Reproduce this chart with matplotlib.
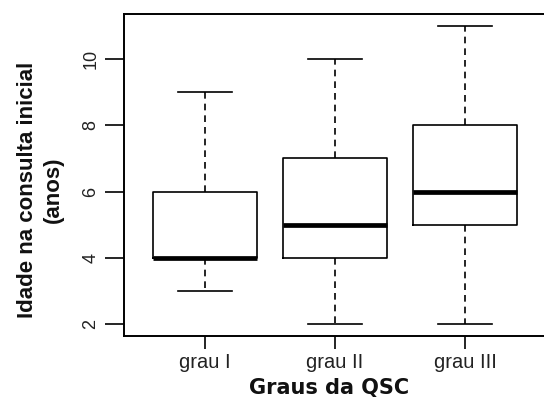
import matplotlib
matplotlib.use("Agg")
import matplotlib.pyplot as plt

# five-number summaries
groups = ["grau I", "grau II", "grau III"]
mins = [3, 2, 2]
q1s = [4, 4, 5]
medians = [4, 5, 6]
q3s = [6, 7, 8]
maxs = [9, 10, 11]
yticks = [2, 4, 6, 8, 10]

stats = [
    dict(label=g, whislo=lo, q1=a, med=m, q3=b, whishi=hi, fliers=[])
    for g, lo, a, m, b, hi in zip(groups, mins, q1s, medians, q3s, maxs)
]

plt.rcParams["font.family"] = ["Liberation Sans", "DejaVu Sans"]

fig = plt.figure(figsize=(5.44, 4.00), dpi=100)
ax = fig.add_axes([124.4 / 544, 64 / 400, 421.2 / 544, 322 / 400])

ax.bxp(
    stats,
    positions=[1, 2, 3],
    widths=0.8,
    showfliers=False,
    patch_artist=False,
    boxprops=dict(color="black", linewidth=1.2),
    whiskerprops=dict(color="black", linewidth=1.2, linestyle=(0, (4, 3))),
    capprops=dict(color="black", linewidth=1.2),
    medianprops=dict(color="black", linewidth=3.4, solid_capstyle="butt"),
    capwidths=0.42,
)

ax.set_xlim(0.38, 3.62)
ax.set_ylim(1.64, 11.36)
ax.set_yticks(yticks)
ax.set_yticklabels([str(t) for t in yticks], rotation=90, va="center",
                   fontsize=13, color="#222222")
ax.set_xticks([1, 2, 3])
ax.set_xticklabels(groups, fontsize=14.5, color="#222222")
ax.tick_params(axis="y", length=14, width=1.2, pad=4)
ax.tick_params(axis="x", length=9, width=1.2, pad=3)
for sp in ax.spines.values():
    sp.set_linewidth(1.4)

fig.text(40 / 544, 1 - 190 / 400, "Idade na consulta inicial\n(anos)",
         rotation=90, ha="center", va="center", fontsize=16,
         fontweight="bold", linespacing=1.3, color="#111111")
fig.text(329 / 544, 1 - 388 / 400, "Graus da QSC", ha="center", va="center",
         fontsize=15, fontweight="bold", family="DejaVu Sans", color="#111111")

fig.savefig("out.png", dpi=100)
